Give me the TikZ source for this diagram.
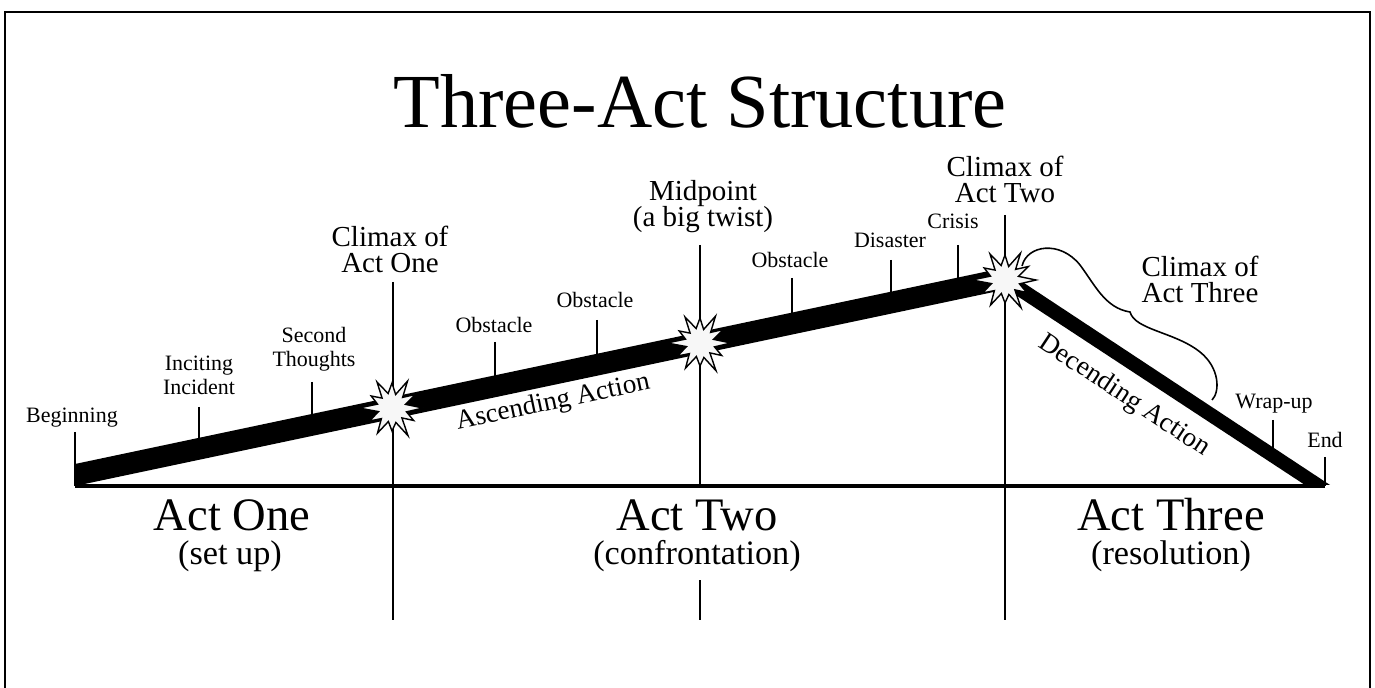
\documentclass[tikz,border=0pt]{standalone}
\usepackage{fontspec}
\setmainfont{Liberation Serif}
\usepackage{tikz}

\newcommand{\drawburst}[1]{%
  \draw[burst, shift={(#1)}] (0:31) -- (15:15) -- (30:25) -- (45:14) -- (60:32) -- (75:15)
    -- (90:23) -- (105:14) -- (120:29) -- (135:15) -- (150:26) -- (165:14) -- (180:33)
    -- (195:15) -- (210:24) -- (225:14) -- (240:30) -- (255:15) -- (270:25) -- (285:14)
    -- (300:31) -- (315:15) -- (330:27) -- (345:14) -- cycle;}

\tikzset{
  lbl/.style={font=\fontsize{12.5}{14}\selectfont, inner sep=0pt, text depth=0pt, align=center, anchor=south},
  midlbl/.style={font=\fontsize{16.5}{15}\selectfont, inner sep=0pt, text depth=0pt, align=center, anchor=south},
  act/.style={font=\fontsize{26.5}{26}\selectfont, inner sep=0pt, anchor=base},
  actsub/.style={font=\fontsize{19.5}{19}\selectfont, inner sep=0pt, anchor=base},
  tick/.style={line width=1.3pt},
  divider/.style={line width=1.5pt},
  burst/.style={draw=black, fill=gray!6, line width=0.8pt, line join=miter},
}

\begin{document}
\begin{tikzpicture}[x=0.02cm, y=-0.02cm]
    \useasboundingbox (0,0) rectangle (1375,688);
    % frame
    \draw[line width=1.5pt] (5,692) -- (5,12) -- (1370,12) -- (1370,692);
    \node[font=\fontsize{43.5}{43}\selectfont, anchor=base, inner sep=0pt] (title) at (700,128) {Three-Act Structure};

    % the action line
    \fill (75,486) -- (75,464) -- (1001.7,268.3) -- (1330,485) -- (1305,485) -- (1006.8,289.2) -- cycle;
    \coordinate (start) at (75,486);
    \coordinate (finish) at (1325,486);
    \draw[line width=1.8pt] (start) -- (finish);

    % act dividers
    \coordinate (oneT) at (393,282);
    \coordinate (oneB) at (393,620);
    \coordinate (midT) at (700,245);
    \coordinate (midB) at (700,486);
    \coordinate (midL) at (700,580);
    \coordinate (midE) at (700,620);
    \coordinate (twoT) at (1005,215);
    \coordinate (twoB) at (1005,620);
    \draw[divider] (oneT) -- (oneB);
    \draw[divider] (midT) -- (midB);
    \draw[divider] (midL) -- (midE);
    \draw[divider] (twoT) -- (twoB);

    % ticks
    \coordinate (begT) at (75,432);
    \coordinate (incT) at (199,407);
    \coordinate (incB) at (199,445);
    \coordinate (secT) at (312,382);
    \coordinate (secB) at (312,420);
    \coordinate (obaT) at (495,342);
    \coordinate (obaB) at (495,382);
    \coordinate (obbT) at (597,320);
    \coordinate (obbB) at (597,360);
    \coordinate (obcT) at (792,278);
    \coordinate (obcB) at (792,318);
    \coordinate (disT) at (891,260);
    \coordinate (disB) at (891,298);
    \coordinate (criT) at (958,245);
    \coordinate (criB) at (958,284);
    \coordinate (wrpT) at (1273,420);
    \coordinate (wrpB) at (1273,452);
    \coordinate (endT) at (1325,457);
    \draw[tick] (begT) -- (start);
    \draw[tick] (incT) -- (incB);
    \draw[tick] (secT) -- (secB);
    \draw[tick] (obaT) -- (obaB);
    \draw[tick] (obbT) -- (obbB);
    \draw[tick] (obcT) -- (obcB);
    \draw[tick] (disT) -- (disB);
    \draw[tick] (criT) -- (criB);
    \draw[tick] (wrpT) -- (wrpB);
    \draw[tick] (endT) -- (finish);

    % climaxes
    \coordinate (oneS) at (392,408);
    \coordinate (midS) at (700,343);
    \coordinate (twoS) at (1005,280);
    \drawburst{oneS}
    \drawburst{midS}
    \drawburst{twoS}

    % labels
    \node[lbl] (beginning) at (72,423) {Beginning};
    \node[lbl] (inciting) at (199,395) {Inciting\\Incident};
    \node[lbl] (second) at (314,367) {Second\\Thoughts};
    \node[lbl] (obstA) at (494,333) {Obstacle};
    \node[lbl] (obstB) at (595,308) {Obstacle};
    \node[lbl] (obstC) at (790,268) {Obstacle};
    \node[lbl] (disaster) at (890,248) {Disaster};
    \node[lbl] (crisis) at (953,229) {Crisis};
    \node[lbl] (wrapup) at (1274,409) {Wrap-up};
    \node[lbl] (endlbl) at (1325,448) {End};
    \node[midlbl] (climaxOne) at (390,273) {Climax of\\Act One};
    \node[midlbl] (midpoint) at (703,227) {Midpoint\\(a big twist)};
    \node[midlbl] (climaxTwo) at (1005,203) {Climax of\\Act Two};
    \node[midlbl] (climaxThree) at (1200,303) {Climax of\\Act Three};
    \node[font=\fontsize{15.5}{15}\selectfont, rotate=11.9] (ascending) at (553,403) {Ascending Action};
    \node[font=\fontsize{15.5}{15}\selectfont, rotate=-33.5] (descending) at (1124,396) {Decending Action};

    % brace for climax of act three
    \coordinate (braceA) at (1022,266);
    \coordinate (braceTip) at (1130,312);
    \coordinate (braceZ) at (1212,400);
    \draw[line width=0.9pt] (braceA) .. controls (1027,245) and (1060,240) .. (1080,265)
        .. controls (1095,285) and (1105,308) .. (braceTip)
        .. controls (1135,330) and (1175,332) .. (1200,352)
        .. controls (1220,368) and (1220,392) .. (braceZ);

    % acts
    \node[act] (actOne) at (232,531) {Act One};
    \node[actsub] (setup) at (230,564) {(set up)};
    \node[act] (actTwo) at (697,531) {Act Two};
    \node[actsub] (confront) at (697,564) {(confrontation)};
    \node[act] (actThree) at (1171,531) {Act Three};
    \node[actsub] (resolve) at (1171,564) {(resolution)};
\end{tikzpicture}
\end{document}
